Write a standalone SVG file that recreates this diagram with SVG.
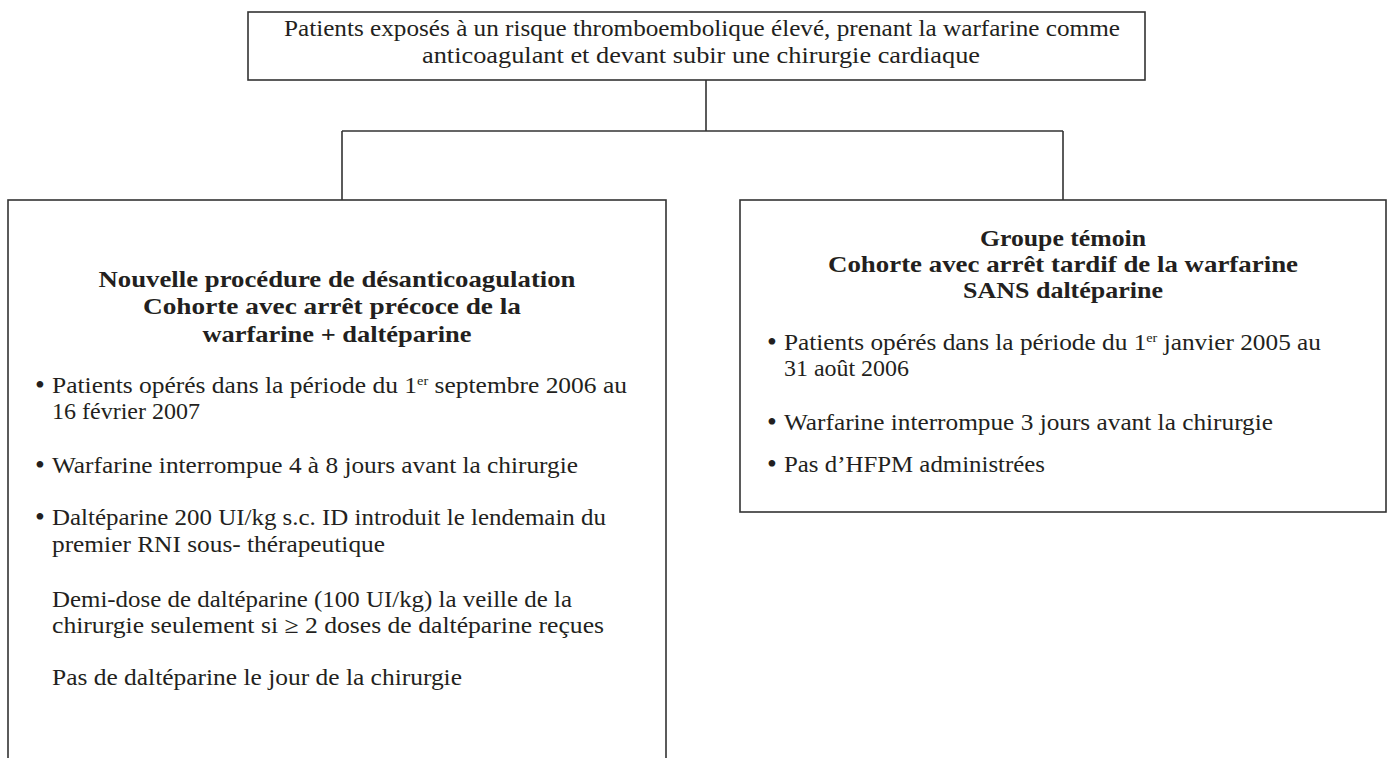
<svg xmlns="http://www.w3.org/2000/svg" width="1389" height="758" viewBox="0 0 1389 758">
<style>
.box{fill:#fff;stroke:#333;stroke-width:1.6}
.ln{fill:none;stroke:#333;stroke-width:1.6}
text{font-family:"Liberation Serif","Times New Roman",serif;font-size:23px;fill:#231f20}
.h{font-weight:bold;text-anchor:middle}
.c{text-anchor:middle}
.sup{font-size:13px}
.b{font-size:28px}
</style>
<rect width="1389" height="758" fill="#fff"/>
<g id="connectors">
<path class="ln" d="M706,80 V131 M342,131 H1063 M342,131 V200 M1063,131 V200"/>
</g>
<g id="top">
<rect class="box" x="248" y="12" width="897" height="68"/>
<text class="c" x="702" y="36" textLength="836" lengthAdjust="spacingAndGlyphs">Patients exposés à un risque thromboembolique élevé, prenant la warfarine comme</text>
<text class="c" x="701" y="63" textLength="558" lengthAdjust="spacingAndGlyphs">anticoagulant et devant subir une chirurgie cardiaque</text>
</g>
<g id="left">
<rect class="box" x="8" y="200" width="658" height="580"/>
<text class="h" x="337" y="287" textLength="477" lengthAdjust="spacingAndGlyphs">Nouvelle procédure de désanticoagulation</text>
<text class="h" x="332" y="314" textLength="378" lengthAdjust="spacingAndGlyphs">Cohorte avec arrêt précoce de la</text>
<text class="h" x="337" y="342" textLength="269" lengthAdjust="spacingAndGlyphs">warfarine + daltéparine</text>
<text class="b" x="35" y="394">•</text>
<text x="52" y="393" textLength="575" lengthAdjust="spacingAndGlyphs">Patients opérés dans la période du 1<tspan class="sup" dy="-8">er</tspan><tspan dy="8"> septembre 2006 au</tspan></text>
<text x="52" y="419" textLength="148" lengthAdjust="spacingAndGlyphs">16 février 2007</text>
<text class="b" x="35" y="474">•</text>
<text x="52" y="473" textLength="526" lengthAdjust="spacingAndGlyphs">Warfarine interrompue 4 à 8 jours avant la chirurgie</text>
<text class="b" x="35" y="526">•</text>
<text x="52" y="525" textLength="554" lengthAdjust="spacingAndGlyphs">Daltéparine 200 UI/kg s.c. ID introduit le lendemain du</text>
<text x="52" y="552" textLength="333" lengthAdjust="spacingAndGlyphs">premier RNI sous- thérapeutique</text>
<text x="52" y="607" textLength="520" lengthAdjust="spacingAndGlyphs">Demi-dose de daltéparine (100 UI/kg) la veille de la</text>
<text x="52" y="633" textLength="552" lengthAdjust="spacingAndGlyphs">chirurgie seulement si ≥ 2 doses de daltéparine reçues</text>
<text x="52" y="685" textLength="410" lengthAdjust="spacingAndGlyphs">Pas de daltéparine le jour de la chirurgie</text>
</g>
<g id="right">
<rect class="box" x="740" y="200" width="646" height="312"/>
<text class="h" x="1063" y="246" textLength="166" lengthAdjust="spacingAndGlyphs">Groupe témoin</text>
<text class="h" x="1063" y="272" textLength="470" lengthAdjust="spacingAndGlyphs">Cohorte avec arrêt tardif de la warfarine</text>
<text class="h" x="1063" y="298" textLength="200" lengthAdjust="spacingAndGlyphs">SANS daltéparine</text>
<text class="b" x="767" y="351">•</text>
<text x="784" y="350" textLength="537" lengthAdjust="spacingAndGlyphs">Patients opérés dans la période du 1<tspan class="sup" dy="-8">er</tspan><tspan dy="8"> janvier 2005 au</tspan></text>
<text x="784" y="376" textLength="125" lengthAdjust="spacingAndGlyphs">31 août 2006</text>
<text class="b" x="767" y="431">•</text>
<text x="784" y="430" textLength="489" lengthAdjust="spacingAndGlyphs">Warfarine interrompue 3 jours avant la chirurgie</text>
<text class="b" x="767" y="473">•</text>
<text x="784" y="472" textLength="261" lengthAdjust="spacingAndGlyphs">Pas d’HFPM administrées</text>
</g>
</svg>
